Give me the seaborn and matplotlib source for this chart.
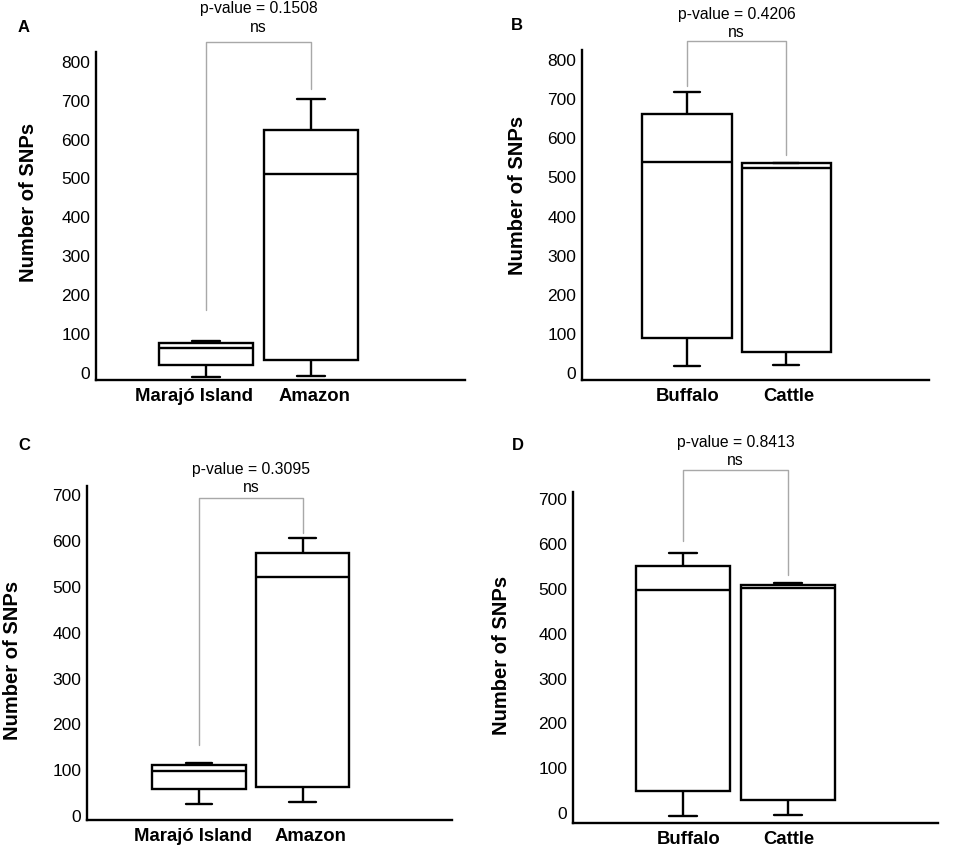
import numpy as np
import pandas as pd
import matplotlib
matplotlib.use("Agg")
import matplotlib.pyplot as plt
import matplotlib.transforms as mtrans
import seaborn as sns

island_groups = ["Marajó Island", "Amazon"]
species_groups = ["Buffalo", "Cattle"]

# five numbers per box: min, q1, median, q3, max
a_marajo = [-10, 21, 64, 77, 82]
a_amazon = [-8, 33, 511, 624, 704]
b_buffalo = [18, 90, 540, 662, 718]
b_cattle = [20, 54, 525, 536, 538]
c_marajo = [26, 59, 98, 111, 116]
c_amazon = [31, 63, 521, 573, 606]
d_buffalo = [-7, 49, 497, 550, 579]
d_cattle = [-4, 29, 501, 508, 512]

p_values = ["0.1508", "0.4206", "0.3095", "0.8413"]
panel_letters = ["A", "B", "C", "D"]
ticks_top = [0, 100, 200, 300, 400, 500, 600, 700, 800]
ticks_bottom = [0, 100, 200, 300, 400, 500, 600, 700]

sns.set_style("white")
plt.rcParams["font.family"] = ["Liberation Sans", "DejaVu Sans"]
for key in ["text.color", "axes.labelcolor", "xtick.color", "ytick.color"]:
    plt.rcParams[key] = "black"

W, H = 957, 850
fig = plt.figure(figsize=(W / 100, H / 100), dpi=100)

# layout of each panel in pixels (left, top, right, bottom) and bracket placement
panels = [
    dict(box=(96, 52, 465, 380), ylim=(-18, 825), xlim=(-1.05, 2.47),
         groups=island_groups, vals=(a_marajo, a_amazon), ticks=ticks_top,
         bracket=(162, 851, 730), text_y=(936, 889), ylab=(-0.184, 0.54),
         letter=(18, 27), shift=(-12, 4)),
    dict(box=(582, 50, 929, 380), ylim=(-18, 826), xlim=(-1.06, 2.44),
         groups=species_groups, vals=(b_buffalo, b_cattle), ticks=ticks_top,
         bracket=(733, 848, 557), text_y=(916, 870), ylab=(-0.187, 0.558),
         letter=(511, 26), shift=(1, 3)),
    dict(box=(87, 486, 452, 820), ylim=(-8.7, 720), xlim=(-1.08, 2.44),
         groups=island_groups, vals=(c_marajo, c_amazon), ticks=ticks_bottom,
         bracket=(155, 693, 617), text_y=(757, 717), ylab=(-0.203, 0.479),
         letter=(18, 445), shift=(-6, 8)),
    dict(box=(573, 492, 938, 823), ylim=(-22, 716), xlim=(-1.05, 2.43),
         groups=species_groups, vals=(d_buffalo, d_cattle), ticks=ticks_bottom,
         bracket=(607, 765, 530), text_y=(827, 787), ylab=(-0.195, 0.505),
         letter=(512, 446), shift=(5, 1)),
]

for i, p in enumerate(panels):
    l, t, r, b = p["box"]
    ax = fig.add_axes([l / W, 1 - b / H, (r - l) / W, (b - t) / H])
    df = pd.DataFrame({
        "group": np.repeat(p["groups"], 5),
        "snps": list(p["vals"][0]) + list(p["vals"][1]),
    })
    sns.boxplot(data=df, x="group", y="snps", order=p["groups"], ax=ax,
                color="white", linecolor="black", linewidth=1.7, width=0.9,
                whis=(0, 100), showfliers=False, capwidths=0.26)
    ax.set_xlim(p["xlim"])
    ax.set_ylim(p["ylim"])
    ax.set_yticks(p["ticks"])
    ax.tick_params(axis="y", length=0, labelsize=12.5, pad=4)
    ax.tick_params(axis="x", length=0, pad=6)
    for lab, dx in zip(ax.get_xticklabels(), p["shift"]):
        lab.set_fontsize(13.3)
        lab.set_fontweight("bold")
        lab.set_transform(lab.get_transform() +
                          mtrans.ScaledTranslation(dx / 100, 0, fig.dpi_scale_trans))
    ax.set_xlabel("")
    ax.set_ylabel("Number of SNPs", fontsize=14.5, fontweight="bold", va="center")
    ax.yaxis.set_label_coords(*p["ylab"])
    sns.despine(ax=ax)
    for side in ["left", "bottom"]:
        ax.spines[side].set_color("black")
        ax.spines[side].set_linewidth(1.7)

    # significance bracket
    lo_left, top, lo_right = p["bracket"]
    ax.plot([0, 0, 1, 1], [lo_left, top, top, lo_right], color="#a8a8a8",
            lw=1, clip_on=False)
    ax.text(0.5, p["text_y"][0], f"p-value = {p_values[i]}", ha="center",
            va="center", fontsize=11.3, clip_on=False)
    ax.text(0.5, p["text_y"][1], "ns", ha="center", va="center",
            fontsize=11.3, clip_on=False)

    lx, ly = p["letter"]
    fig.text(lx / W, 1 - ly / H, panel_letters[i], fontsize=12,
             fontweight="bold", va="center")

fig.savefig("out.png", dpi=100)
